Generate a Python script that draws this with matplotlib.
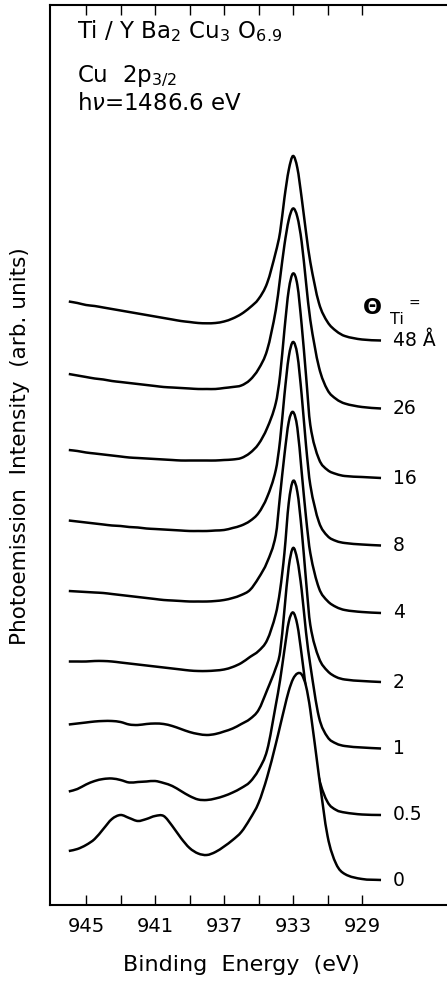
import matplotlib
matplotlib.use("Agg")
import matplotlib.pyplot as plt
import matplotlib.ticker as ticker
from matplotlib.path import Path
from matplotlib.patches import PathPatch

plt.rcParams['font.family'] = 'DejaVu Sans'
plt.rcParams['mathtext.fontset'] = 'dejavusans'

# binding energy grid (eV), common to all spectra
energy = [946.0, 945.5, 945.0, 944.5, 944.0, 943.5, 943.0, 942.5, 942.0, 941.5,
          941.0, 940.5, 940.0, 939.5, 939.0, 938.5, 938.0, 937.5, 937.0, 936.5,
          936.0, 935.5, 935.0, 934.5, 934.0, 933.75, 933.5, 933.25, 933.0, 932.75,
          932.5, 932.25, 932.0, 931.5, 931.0, 930.5, 930.0, 929.0, 927.9]

# stacked Cu 2p3/2 spectra (arb. units), top to bottom
cov_48 = [603.5, 602, 600, 599, 597.5, 596, 594.5, 593, 591.5, 590, 588.5, 587, 585.5,
          584, 583, 582, 581.7, 582, 583.5, 586.5, 591, 597.5, 606, 622, 653, 673, 707,
          735, 749, 737, 707, 673, 643, 602, 583, 574, 569, 565.5, 564.5]
cov_26 = [531, 529.5, 528, 526.5, 525.5, 524, 523, 522, 521, 520, 519, 518, 517.5, 517,
          516.5, 516, 516, 516, 517, 518, 519.5, 525, 536, 555, 595, 627, 660, 685, 696.5,
          688, 663, 623, 585, 538, 515, 506, 501.5, 498, 496.5]
cov_16 = [455, 454, 452.5, 451.5, 450.5, 449.5, 448.5, 447.5, 447, 446.5, 446, 445.5, 445,
          444.5, 444.5, 444.5, 444.5, 444.5, 445, 445.5, 447, 452, 461, 477, 502, 530, 575,
          615, 631.5, 620, 580, 530, 480, 446, 435, 431, 429, 428, 427]
cov_8 = [384.5, 383.5, 382.5, 381.5, 380.5, 379.5, 379, 378, 377.5, 376.5, 376, 375.5, 375,
         374.5, 374, 374, 374, 374.5, 375, 377, 379.5, 384, 392, 408, 435, 465, 510, 548,
         563, 550, 510, 460, 420, 383, 369, 364, 362, 360.5, 359.5]
cov_4 = [314, 313.5, 313, 312.5, 312, 311, 310, 309, 308, 307, 306, 305, 304.5, 304, 303.5,
         303.5, 303.5, 304, 305, 307, 310, 315, 327, 343, 370, 410, 450, 483, 493, 477, 433,
         388, 352, 317, 304, 298, 295, 293, 292]
cov_2 = [243.5, 243.5, 243.5, 244, 244, 243.5, 242.5, 241.5, 240.5, 239.5, 238.5, 237.5,
         236.5, 235.5, 234.5, 234, 234, 234.5, 235.5, 238, 242, 248, 254, 265, 291, 315, 352,
         402, 424, 413, 375, 325, 280, 247, 234, 228, 225.5, 224, 223]
cov_1 = [180.5, 181.5, 182.5, 183.5, 184, 184, 183, 180.5, 180, 181, 181.5, 181, 179, 176,
         173, 171, 170, 171, 173.5, 176.5, 181, 186, 195, 215, 237, 253, 295, 338, 357, 345,
         315, 273, 240, 188, 168, 161.5, 159, 157.5, 156.5]
cov_05 = [113.5, 116, 120.5, 124, 126, 126.5, 125, 122.5, 123, 123.5, 124, 122, 119, 114,
          109, 105.5, 105, 106.5, 109, 112.5, 117, 123, 135, 155, 200, 225, 255, 283, 292.5,
          280, 250, 215, 175, 127, 103, 95, 92.5, 90.5, 90]
cov_0 = [54, 56, 60, 66, 76, 86, 90, 87, 84, 86, 89, 89, 79, 67, 57, 51.5, 50, 53, 58.5, 65,
         73, 86, 102, 128, 161, 179, 197, 214, 226, 231.5, 230.5, 219, 195, 129, 69, 41, 31,
         26, 25]

spectra = [cov_48, cov_26, cov_16, cov_8, cov_4, cov_2, cov_1, cov_05, cov_0]
coverage_labels = ["48 Å", "26", "16", "8", "4", "2", "1", "0.5", "0"]

major_ticks = [945, 941, 937, 933, 929]
minor_ticks = [943, 939, 935, 931]


def smooth_path(x, y):
    # cubic Hermite segments (bezier) through the read points
    n = len(x)
    m = []
    for i in range(n):
        if i == 0:
            m.append((y[1] - y[0]) / (x[1] - x[0]))
        elif i == n - 1:
            m.append((y[-1] - y[-2]) / (x[-1] - x[-2]))
        else:
            m.append((y[i + 1] - y[i - 1]) / (x[i + 1] - x[i - 1]))
    verts = [(x[0], y[0])]
    codes = [Path.MOVETO]
    for i in range(n - 1):
        h = x[i + 1] - x[i]
        verts += [(x[i] + h / 3, y[i] + m[i] * h / 3),
                  (x[i + 1] - h / 3, y[i + 1] - m[i + 1] * h / 3),
                  (x[i + 1], y[i + 1])]
        codes += [Path.CURVE4] * 3
    return verts, codes


fig = plt.figure(figsize=(4.47, 9.82), dpi=100)
ax = fig.add_axes([50 / 447, 77 / 982, 401.4 / 447, 900 / 982])

# back spectra first, each front one hides what lies below it
for k, (spec, lab) in enumerate(zip(spectra, coverage_labels)):
    z = 3 + 2 * k
    verts, codes = smooth_path(energy, spec)
    fill_verts = verts + [(energy[-1], 0), (energy[0], 0), (energy[0], spec[0])]
    fill_codes = codes + [Path.LINETO, Path.LINETO, Path.CLOSEPOLY]
    ax.add_patch(PathPatch(Path(fill_verts, fill_codes), facecolor='white',
                           edgecolor='none', zorder=z))
    ax.add_patch(PathPatch(Path(verts, codes), facecolor='none', edgecolor='black',
                           lw=1.8, zorder=z + 1))
    ax.text(927.2, spec[-1], lab, fontsize=13.5, va='center', ha='left', zorder=40)

ax.text(928.39, 596.5, "Θ", fontsize=16, fontweight='bold', ha='center', va='center', zorder=40)
ax.text(927.0, 586, "Ti", fontsize=11.5, ha='center', va='center', zorder=40)
ax.text(925.95, 601, "=", fontsize=10, ha='center', va='center', zorder=40)

ax.text(945.52, 867, r"Ti / Y Ba$_2$ Cu$_3$ O$_{6.9}$", fontsize=16.5, va='baseline')
ax.text(945.52, 823, r"Cu  2p$_{3/2}$", fontsize=16.5, va='baseline')
ax.text(945.55, 795, r"h$\nu$=1486.6 eV", fontsize=16.5, va='baseline')

ax.set_xlim(947.09, 923.82)
ax.set_ylim(0, 900)

ax.xaxis.set_major_locator(ticker.FixedLocator(major_ticks))
ax.xaxis.set_minor_locator(ticker.FixedLocator(minor_ticks))
ax.xaxis.set_minor_formatter(ticker.NullFormatter())
ax.tick_params(axis='x', which='both', direction='in', top=True, bottom=True,
               length=7, width=1, labelsize=14, pad=9)
ax.set_yticks([])

ax.spines['right'].set_visible(False)
for s in ['left', 'bottom', 'top']:
    ax.spines[s].set_linewidth(1.5)
    ax.spines[s].set_zorder(50)
ax.xaxis.set_zorder(50)

ax.set_xlabel("Binding  Energy  (eV)", fontsize=16)
ax.xaxis.set_label_coords(0.478, -0.0667)
ax.xaxis.label.set_va('center')
ax.set_ylabel("Photoemission  Intensity  (arb. units)", fontsize=15.5)
ax.yaxis.set_label_coords(-0.0747, 0.51)
ax.yaxis.label.set_va('center')

fig.savefig('out.png', dpi=100)
